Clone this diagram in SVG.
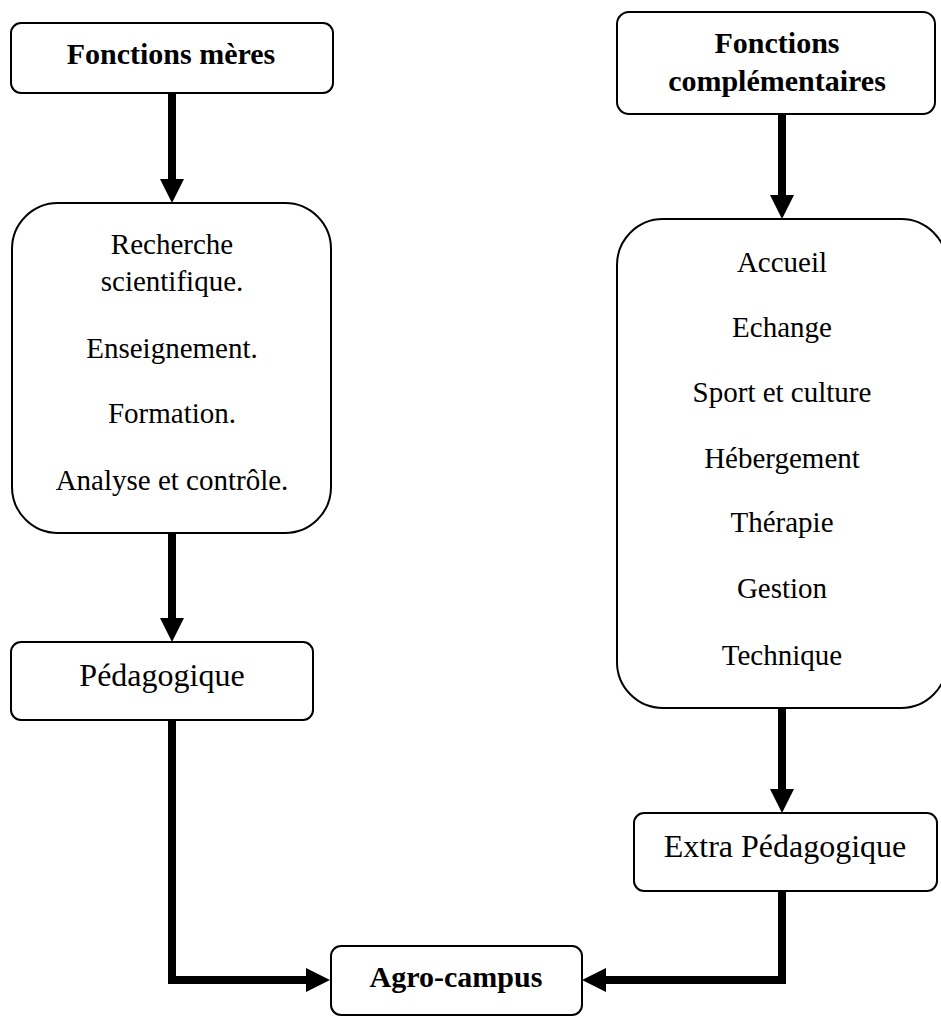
<svg xmlns="http://www.w3.org/2000/svg" width="941" height="1017" viewBox="0 0 941 1017">
<style>
.box{fill:#fff;stroke:#000;stroke-width:2}
.t{font-family:"Liberation Serif","Times New Roman",serif;font-size:29px;fill:#000;text-anchor:middle}
.b{font-weight:bold;font-size:30px}
.big{font-size:32px}
.c{fill:none;stroke:#000;stroke-width:8;stroke-linejoin:miter}
</style>
<defs>
<marker id="ah" viewBox="0 -12 24 24" refX="0" refY="0" markerWidth="24" markerHeight="24" markerUnits="userSpaceOnUse" orient="auto">
<path d="M0,-12 L24,0 L0,12 Z" fill="#000"/>
</marker>
</defs>
<rect width="941" height="1017" fill="#fff"/>
<g id="connectors">
<path class="c" d="M172,93 V179" marker-end="url(#ah)"/>
<path class="c" d="M172,533 V618" marker-end="url(#ah)"/>
<path class="c" d="M782,114 V195" marker-end="url(#ah)"/>
<path class="c" d="M782,708 V789" marker-end="url(#ah)"/>
<path class="c" d="M172,720 V980 H306" marker-end="url(#ah)"/>
<path class="c" d="M782,891 V980 H606" marker-end="url(#ah)"/>
</g>
<g id="fonctions-meres">
<rect class="box" x="11" y="23" width="322" height="70" rx="10"/>
<text class="t b" x="171" y="64">Fonctions mères</text>
</g>
<g id="fonctions-complementaires">
<rect class="box" x="617" y="12" width="318" height="102" rx="12"/>
<text class="t b" x="777" y="53">Fonctions</text>
<text class="t b" x="777" y="91">complémentaires</text>
</g>
<g id="meres-liste">
<rect class="box" x="12" y="203" width="319" height="330" rx="46"/>
<text class="t" x="172" y="254">Recherche</text>
<text class="t" x="172" y="291">scientifique.</text>
<text class="t" x="172" y="358">Enseignement.</text>
<text class="t" x="172" y="423">Formation.</text>
<text class="t" x="172" y="490">Analyse et contrôle.</text>
</g>
<g id="complementaires-liste">
<rect class="box" x="617" y="219" width="330" height="489" rx="46"/>
<text class="t" x="782" y="272">Accueil</text>
<text class="t" x="782" y="337">Echange</text>
<text class="t" x="782" y="402">Sport et culture</text>
<text class="t" x="782" y="468">Hébergement</text>
<text class="t" x="782" y="532">Thérapie</text>
<text class="t" x="782" y="598">Gestion</text>
<text class="t" x="782" y="665">Technique</text>
</g>
<g id="pedagogique">
<rect class="box" x="11" y="642" width="302" height="78" rx="10"/>
<text class="t big" x="162" y="686">Pédagogique</text>
</g>
<g id="extra-pedagogique">
<rect class="box" x="634" y="813" width="303" height="78" rx="10"/>
<text class="t big" x="785" y="857">Extra Pédagogique</text>
</g>
<g id="agro-campus">
<rect class="box" x="331" y="946" width="251" height="69" rx="10"/>
<text class="t b" x="456" y="987">Agro-campus</text>
</g>
</svg>
